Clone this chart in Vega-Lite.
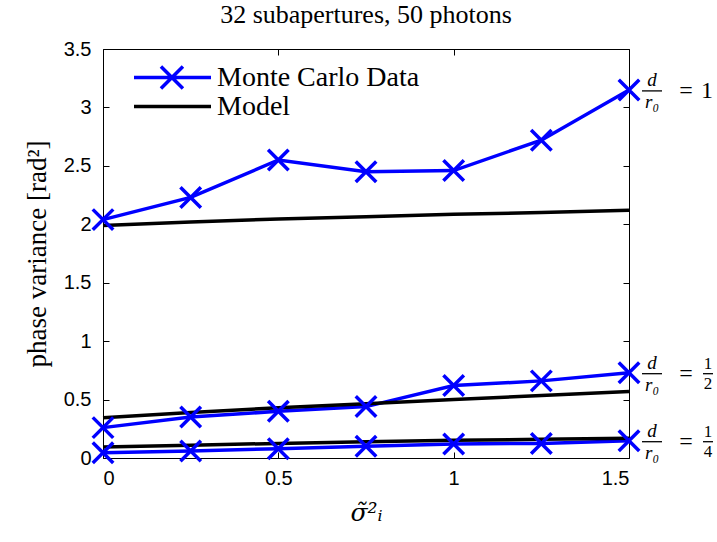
{
  "$schema": "https://vega.github.io/schema/vega-lite/v6.json",
  "width": 526,
  "height": 409,
  "autosize": {"type": "none"},
  "padding": {"left": 103, "top": 49, "right": 88, "bottom": 84},
  "background": "white",
  "title": {"text": "32 subapertures, 50 photons", "font": "Liberation Serif", "fontSize": 26, "fontWeight": "normal", "color": "black", "offset": 11},
  "config": {
    "view": {"stroke": "black", "strokeWidth": 1},
    "axis": {"grid": false, "domain": false, "tickColor": "black", "labelColor": "black", "titleColor": "black", "labelFont": "Liberation Sans", "labelFontSize": 20, "tickSize": -6, "tickWidth": 1}
  },
  "data": {"values": [
    {"x": 0, "y": 2.04, "series": "Monte Carlo Data", "d": "1"},
    {"x": 0.25, "y": 2.23, "series": "Monte Carlo Data", "d": "1"},
    {"x": 0.5, "y": 2.55, "series": "Monte Carlo Data", "d": "1"},
    {"x": 0.75, "y": 2.45, "series": "Monte Carlo Data", "d": "1"},
    {"x": 1, "y": 2.46, "series": "Monte Carlo Data", "d": "1"},
    {"x": 1.25, "y": 2.72, "series": "Monte Carlo Data", "d": "1"},
    {"x": 1.5, "y": 3.15, "series": "Monte Carlo Data", "d": "1"},
    {"x": 0, "y": 1.99, "series": "Model", "d": "1"},
    {"x": 0.25, "y": 2.02, "series": "Model", "d": "1"},
    {"x": 0.5, "y": 2.045, "series": "Model", "d": "1"},
    {"x": 0.75, "y": 2.065, "series": "Model", "d": "1"},
    {"x": 1, "y": 2.085, "series": "Model", "d": "1"},
    {"x": 1.25, "y": 2.1, "series": "Model", "d": "1"},
    {"x": 1.5, "y": 2.12, "series": "Model", "d": "1"},
    {"x": 0, "y": 0.26, "series": "Monte Carlo Data", "d": "1/2"},
    {"x": 0.25, "y": 0.35, "series": "Monte Carlo Data", "d": "1/2"},
    {"x": 0.5, "y": 0.4, "series": "Monte Carlo Data", "d": "1/2"},
    {"x": 0.75, "y": 0.44, "series": "Monte Carlo Data", "d": "1/2"},
    {"x": 1, "y": 0.62, "series": "Monte Carlo Data", "d": "1/2"},
    {"x": 1.25, "y": 0.66, "series": "Monte Carlo Data", "d": "1/2"},
    {"x": 1.5, "y": 0.73, "series": "Monte Carlo Data", "d": "1/2"},
    {"x": 0, "y": 0.345, "series": "Model", "d": "1/2"},
    {"x": 0.25, "y": 0.39, "series": "Model", "d": "1/2"},
    {"x": 0.5, "y": 0.43, "series": "Model", "d": "1/2"},
    {"x": 0.75, "y": 0.465, "series": "Model", "d": "1/2"},
    {"x": 1, "y": 0.5, "series": "Model", "d": "1/2"},
    {"x": 1.25, "y": 0.535, "series": "Model", "d": "1/2"},
    {"x": 1.5, "y": 0.57, "series": "Model", "d": "1/2"},
    {"x": 0, "y": 0.045, "series": "Monte Carlo Data", "d": "1/4"},
    {"x": 0.25, "y": 0.06, "series": "Monte Carlo Data", "d": "1/4"},
    {"x": 0.5, "y": 0.08, "series": "Monte Carlo Data", "d": "1/4"},
    {"x": 0.75, "y": 0.1, "series": "Monte Carlo Data", "d": "1/4"},
    {"x": 1, "y": 0.12, "series": "Monte Carlo Data", "d": "1/4"},
    {"x": 1.25, "y": 0.125, "series": "Monte Carlo Data", "d": "1/4"},
    {"x": 1.5, "y": 0.148, "series": "Monte Carlo Data", "d": "1/4"},
    {"x": 0, "y": 0.095, "series": "Model", "d": "1/4"},
    {"x": 0.25, "y": 0.11, "series": "Model", "d": "1/4"},
    {"x": 0.5, "y": 0.125, "series": "Model", "d": "1/4"},
    {"x": 0.75, "y": 0.14, "series": "Model", "d": "1/4"},
    {"x": 1, "y": 0.152, "series": "Model", "d": "1/4"},
    {"x": 1.25, "y": 0.16, "series": "Model", "d": "1/4"},
    {"x": 1.5, "y": 0.168, "series": "Model", "d": "1/4"}
  ]},
  "encoding": {
    "x": {"field": "x", "type": "quantitative", "scale": {"domain": [0, 1.5], "nice": false, "zero": false}, "axis": null},
    "y": {"field": "y", "type": "quantitative", "scale": {"domain": [0, 3.5], "nice": false}, "axis": null}
  },
  "resolve": {"axis": {"x": "independent", "y": "independent"}},
  "layer": [
    {
      "mark": {"type": "line", "strokeWidth": 3.5},
      "encoding": {
        "x": {"field": "x", "type": "quantitative", "axis": {"values": [0, 0.5, 1, 1.5], "format": "~g", "labelPadding": 16, "title": "σ̃²ᵢ", "titleFont": "DejaVu Serif", "titleFontStyle": "italic", "titleFontSize": 25, "titleFontWeight": "normal", "titlePadding": 12}},
        "y": {"field": "y", "type": "quantitative", "axis": {"values": [0, 0.5, 1, 1.5, 2, 2.5, 3, 3.5], "format": "~g", "labelPadding": 18, "title": "phase variance [rad²]", "titleFont": "Liberation Serif", "titleFontSize": 27, "titleFontWeight": "normal", "titlePadding": 12}},
        "color": {"field": "series", "type": "nominal", "scale": {"domain": ["Monte Carlo Data", "Model"], "range": ["#0000ff", "#000000"]},
          "legend": {"title": null, "orient": "none", "legendX": 28, "legendY": 16, "labelFont": "Liberation Serif", "labelFontSize": 28, "labelColor": "black", "labelLimit": 400, "symbolSize": 484, "rowPadding": 0, "clipHeight": 25, "labelOffset": 58,
            "encode": {"symbols": {"update": {"shape": {"signal": "datum.value === 'Model' ? 'M-1,0L6,0' : 'M-1,0L6,0M1.45,-1L3.45,1M1.45,1L3.45,-1'"}, "strokeWidth": {"value": 3.5}, "fill": {"value": "transparent"}}}}}},
        "detail": {"field": "d"},
        "order": {"field": "x", "type": "quantitative"}
      }
    },
    {
      "transform": [{"filter": "datum.series === 'Monte Carlo Data'"}],
      "mark": {"type": "point", "shape": "M-1,-1L1,1M-1,1L1,-1", "size": 420, "filled": false, "stroke": "#0000ff", "strokeWidth": 3.5, "opacity": 1},
      "encoding": {
        "x": {"field": "x", "type": "quantitative", "axis": {"orient": "top", "values": [0, 0.5, 1, 1.5], "labels": false, "title": null}},
        "y": {"field": "y", "type": "quantitative", "axis": {"orient": "right", "values": [0, 0.5, 1, 1.5, 2, 2.5, 3, 3.5], "labels": false, "title": null}}
      }
    },
    {
      "transform": [{"filter": "datum.series === 'Monte Carlo Data' && datum.x === 1.5"}],
      "layer": [
        {"mark": {"type": "text", "text": "d", "font": "Liberation Serif", "fontStyle": "italic", "fontSize": 19, "dx": 23, "dy": -10, "color": "black"}},
        {"mark": {"type": "tick", "orient": "horizontal", "size": 20, "thickness": 1.3, "color": "black", "xOffset": 23, "yOffset": 1, "opacity": 1}},
        {"mark": {"type": "text", "text": "r₀", "font": "Liberation Serif", "fontStyle": "italic", "fontSize": 19, "dx": 23, "dy": 12, "color": "black"}},
        {"mark": {"type": "text", "text": "=", "font": "Liberation Serif", "fontSize": 24, "dx": 57, "dy": 1, "color": "black"}},
        {"transform": [{"filter": "datum.d === '1'"}], "mark": {"type": "text", "text": "1", "font": "Liberation Serif", "fontSize": 24, "dx": 78, "dy": 1, "color": "black"}},
        {"transform": [{"filter": "datum.d !== '1'"}], "mark": {"type": "text", "text": "1", "font": "Liberation Serif", "fontSize": 17, "dx": 79, "dy": -9, "color": "black"}},
        {"transform": [{"filter": "datum.d !== '1'"}], "mark": {"type": "tick", "orient": "horizontal", "size": 10, "thickness": 1.3, "color": "black", "xOffset": 79, "yOffset": 1, "opacity": 1}},
        {"transform": [{"filter": "datum.d === '1/2'"}], "mark": {"type": "text", "text": "2", "font": "Liberation Serif", "fontSize": 17, "dx": 79, "dy": 11, "color": "black"}},
        {"transform": [{"filter": "datum.d === '1/4'"}], "mark": {"type": "text", "text": "4", "font": "Liberation Serif", "fontSize": 17, "dx": 79, "dy": 11, "color": "black"}}
      ]
    }
  ]
}
